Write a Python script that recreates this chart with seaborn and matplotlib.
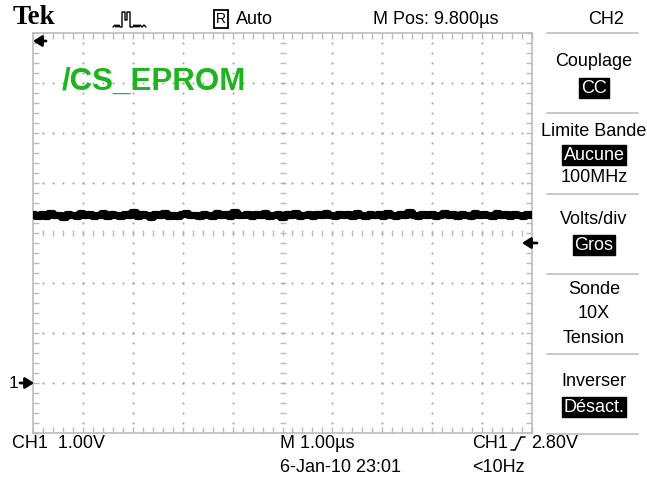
import numpy as np
import pandas as pd
import seaborn as sns
import matplotlib
matplotlib.use("Agg")
import matplotlib.pyplot as plt
from matplotlib.lines import Line2D

# ---- acquisition data -------------------------------------------------
# CH1 samples (volts), 1 us/div timebase, 10 divisions on screen
ch1_volts = [
    3.38, 3.34, 3.37, 3.33, 3.39, 3.35, 3.36, 3.32, 3.38, 3.36,
    3.34, 3.40, 3.35, 3.37, 3.33, 3.36, 3.39, 3.34, 3.37, 3.35,
    3.33, 3.38, 3.36, 3.41, 3.34, 3.37, 3.35, 3.32, 3.38, 3.36,
    3.39, 3.34, 3.36, 3.33, 3.37, 3.40, 3.35, 3.36, 3.34, 3.38,
    3.36, 3.33, 3.39, 3.35, 3.37, 3.34, 3.41, 3.36, 3.35, 3.38,
    3.33, 3.37, 3.35, 3.39, 3.34, 3.36, 3.38, 3.32, 3.37, 3.35,
    3.40, 3.34, 3.36, 3.38, 3.33, 3.37, 3.35, 3.39, 3.36, 3.34,
    3.38, 3.35, 3.37, 3.33, 3.40, 3.36, 3.34, 3.38, 3.35, 3.37,
    3.33, 3.39, 3.36, 3.34, 3.38, 3.35, 3.41, 3.36, 3.33, 3.37,
    3.35, 3.38, 3.34, 3.36, 3.39, 3.35, 3.37, 3.33, 3.38, 3.36,
    3.34, 3.40, 3.35, 3.37, 3.36, 3.33, 3.39, 3.35, 3.37, 3.34,
    3.38, 3.36, 3.33, 3.37, 3.35,
]
us_per_div = 1.00
volts_per_div = 1.00
n_div_x = 10
trigger_level = 2.80
channel_label = "/CS_EPROM"

# sample clock: evenly spaced over the 10 horizontal divisions
sample_period = us_per_div * n_div_x / (len(ch1_volts) - 1)
time_us = [i * sample_period for i in range(len(ch1_volts))]

# ---- figure -----------------------------------------------------------
sns.set_theme(style="white")
plt.rcParams["font.family"] = ["Liberation Sans", "DejaVu Sans"]
plt.rcParams["text.color"] = "black"

W, H = 647, 486
fig = plt.figure(figsize=(W / 100, H / 100), dpi=100, facecolor="white")


def fx(x):
    return x / W


def fy(y):
    return 1 - y / H


ax = fig.add_axes([fx(33), fy(433), 499 / W, 400 / H])
ax.set_facecolor("white")

# screen: ground marker 3 divisions below centre -> -1 V .. 7 V
ax.set_xlim(0, n_div_x * us_per_div)
ax.set_ylim(-1 * volts_per_div, 7 * volts_per_div)

grid_col = "#bcbcbc"
dot_col = "#a0a0a0"

# border ticks every 1/5 division
ax.set_xticks(np.arange(0, 10.001, 0.2))
ax.set_yticks(np.arange(-1, 7.001, 0.2))
ax.tick_params(direction="in", length=4, width=1, color=grid_col,
               top=True, right=True, bottom=True, left=True,
               labelbottom=False, labelleft=False)
for s in ax.spines.values():
    s.set_color(grid_col)
    s.set_linewidth(1.2)

# centre cross with sub-division marks
sub_t = np.arange(0.2, 10, 0.2)
sub_v = np.arange(-0.8, 7, 0.2)
ax.plot(sub_t, np.full_like(sub_t, 3.0), ls="none", marker="|",
        ms=4.0, mew=1.0, color=grid_col, zorder=1)
ax.plot(np.full_like(sub_v, 5.0), sub_v, ls="none", marker="_",
        ms=4.0, mew=1.0, color=grid_col, zorder=1)

# division dots
for t in [1, 2, 3, 4, 6, 7, 8, 9]:
    ax.plot(np.full_like(sub_v, t), sub_v, ls="none", marker="s",
            ms=1.3, mew=0, color=dot_col, zorder=1)
for v in [0, 1, 2, 4, 5, 6]:
    ax.plot(sub_t, np.full_like(sub_t, v), ls="none", marker="s",
            ms=1.3, mew=0, color=dot_col, zorder=1)

# CH1 trace
df = pd.DataFrame({"t": time_us, "v": ch1_volts})
sns.lineplot(data=df, x="t", y="v", ax=ax, color="black", lw=5.2,
             drawstyle="steps-mid", legend=False, zorder=3)
ax.set_xlabel("")
ax.set_ylabel("")

# channel name
ax.text(0.58, 6.03, channel_label, color="#1db51d", fontsize=22.5,
        fontweight="bold", ha="left", va="center", zorder=4)


# markers: trigger position (top-left), trigger level (right), CH1 ground
def screen_arrow(x_tail, x_head, y):
    fig.add_artist(matplotlib.patches.FancyArrowPatch(
        (x_tail, H - y), (x_head, H - y), transform=None,
        arrowstyle="-|>,head_length=5,head_width=3.2",
        mutation_scale=1, lw=2.0, color="black",
        shrinkA=0, shrinkB=0))


screen_arrow(46, 33, 41)
screen_arrow(537, 522, 243)
screen_arrow(20, 34, 383)
fig.text(fx(9), fy(384), "1", fontsize=12.5, ha="left", va="center")

# ---- header -----------------------------------------------------------
fs = 13
fig.text(fx(13), fy(18), "Tek", fontsize=19.5, fontweight="bold",
         family=["Liberation Serif", "DejaVu Serif"], ha="left", va="center")
# acquisition-mode glyph: small noise, a pulse, small noise
pulse_x = [113, 115, 116, 117, 118, 119, 120, 122, 122, 125, 125, 127, 127,
           130, 130, 133, 134, 135, 136, 137, 138, 139, 140, 142, 144, 146]
pulse_y = [27, 25, 27, 25, 27, 25, 27, 27, 12, 12, 20, 20, 12,
           12, 27, 27, 25, 27, 25, 27, 25, 27, 25, 27, 25, 27]
fig.add_artist(Line2D([fx(x) for x in pulse_x], [fy(y) for y in pulse_y],
                      color="black", lw=1.0))
fig.text(fx(221), fy(19), "R", fontsize=10, ha="center", va="center",
         bbox=dict(boxstyle="square,pad=0.15", fc="white", ec="black", lw=1.3))
fig.text(fx(236), fy(19), "Auto", fontsize=fs, ha="left", va="center")
fig.text(fx(373), fy(19), "M Pos: 9.800µs", fontsize=fs, ha="left", va="center")
fig.text(fx(606), fy(19), "CH2", fontsize=fs, ha="center", va="center")

# ---- side menu --------------------------------------------------------
for y in [33, 113, 194, 274, 354, 434]:
    fig.add_artist(Line2D([fx(547), fx(638)], [fy(y), fy(y)],
                          color="#bdbdbd", lw=1.2))

inv = dict(boxstyle="square,pad=0.1", fc="black", ec="black")
menu = [
    (62, "Couplage", False), (88, "CC", True),
    (131, "Limite Bande", False), (155, "Aucune", True), (178, "100MHz", False),
    (220, "Volts/div", False), (245, "Gros", True),
    (290, "Sonde", False), (314, "10X", False), (338, "Tension", False),
    (382, "Inverser", False), (407, "Désact.", True),
]
for y, s, boxed in menu:
    if boxed:
        fig.text(fx(594), fy(y), s, fontsize=fs, ha="center", va="center",
                 color="white", bbox=inv)
    else:
        fig.text(fx(594), fy(y), s, fontsize=fs, ha="center", va="center")

# ---- footer -----------------------------------------------------------
fig.text(fx(12), fy(443), f"CH1  {volts_per_div:.2f}V", fontsize=fs,
         ha="left", va="center")
fig.text(fx(280), fy(443), f"M {us_per_div:.2f}µs", fontsize=fs,
         ha="left", va="center")
fig.text(fx(280), fy(468), "6-Jan-10 23:01", fontsize=fs, ha="left",
         va="center")
fig.text(fx(472), fy(443), "CH1", fontsize=fs, ha="left", va="center")
edge_x = [511, 515, 521, 525]
edge_y = [450, 450, 437, 437]
fig.add_artist(Line2D([fx(x) for x in edge_x], [fy(y) for y in edge_y],
                      color="black", lw=1.1))
fig.text(fx(531), fy(443), f"{trigger_level:.2f}V", fontsize=fs, ha="left",
         va="center")
fig.text(fx(472), fy(468), "<10Hz", fontsize=fs, ha="left", va="center")

fig.savefig("out.png", dpi=100, facecolor="white")
